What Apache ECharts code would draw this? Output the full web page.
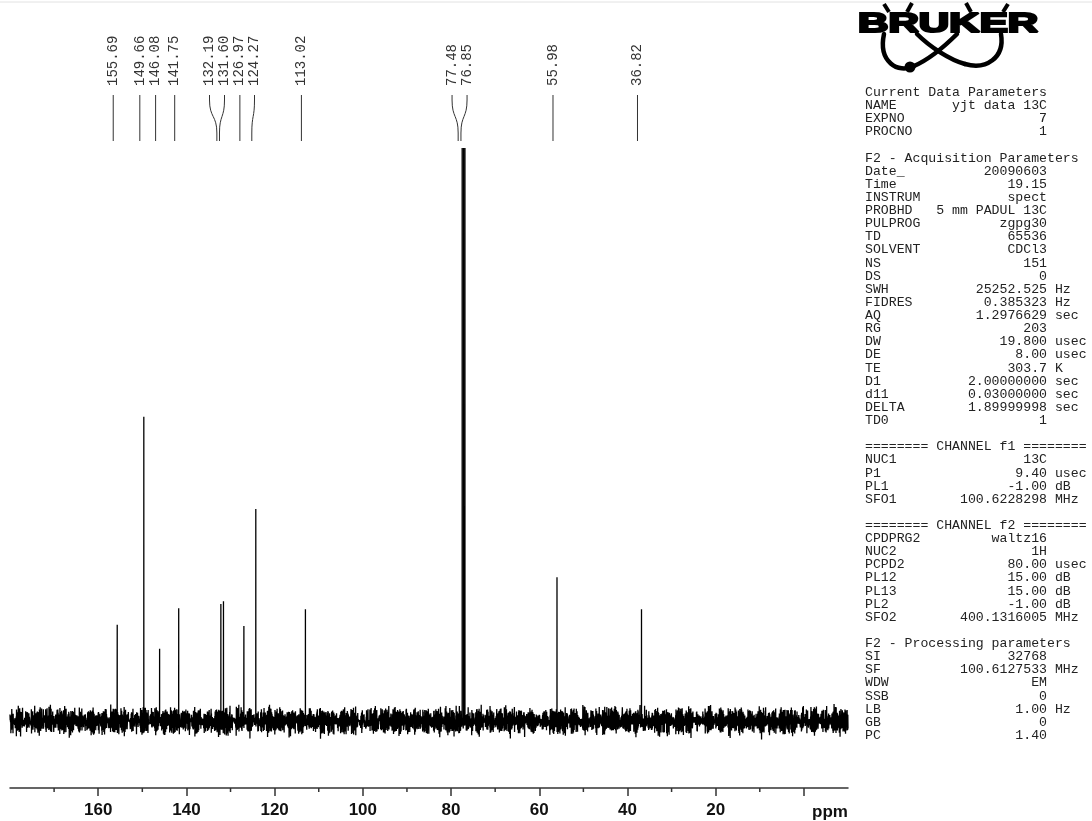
<!DOCTYPE html>
<html>
<head>
<meta charset="utf-8">
<script src="https://cdn.jsdelivr.net/npm/echarts@6/dist/echarts.min.js"></script>
<style>
  html, body { margin: 0; padding: 0; background: #fff; }
  #chart { width: 1092px; height: 821px; }
</style>
</head>
<body>
<div id="chart"></div>
<script>
// 13C NMR peak list (ppm) with peak heights in % of the CDCl3 line
const peakShifts  = [155.69, 149.66, 146.08, 141.75, 132.19, 131.60, 126.97, 124.27, 113.02, 77.48, 77.16, 76.85, 55.98, 36.82];
const peakHeights = [16.8,   53.1,   12.6,   19.7,   20.4,   20.9,   16.6,   37.0,   19.5,   100,   100,   100,   25.1,  19.5];
// shifts printed above the spectrum
const labelledShifts = [155.69, 149.66, 146.08, 141.75, 132.19, 131.60, 126.97, 124.27, 113.02, 77.48, 76.85, 55.98, 36.82];

// ppm axis
const axisMin = -10, axisMax = 180;
const majorTicks = [0, 20, 40, 60, 80, 100, 120, 140, 160];
const minorTicks = [10, 30, 50, 70, 90, 110, 130, 150, 170];
const tickLabels = [20, 40, 60, 80, 100, 120, 140, 160];

// noise floor samples (intensity units)
const baselineNoise = [
  0.6, -1.2, 1.5, -0.4, 0.9, -1.7, 0.3, 1.1, -0.8, -1.4, 1.8, -0.2, 0.7, -1.1, 1.3, -0.6, 0.2, -1.9, 1.0, 0.4,
  -0.9, 1.6, -1.3, 0.5, -0.3, 1.2, -1.6, 0.8, -0.5, 1.9, -1.0, 0.1, -1.5, 1.4, -0.7, 0.6, -2.1, 1.1, 0.3, -0.8,
  1.7, -1.2, 0.9, -0.1, -1.4, 1.3, -0.6, 2.0, -1.8, 0.4, -0.2, 1.0, -1.1, 0.7, -1.6, 1.5, -0.4, 0.2, -1.0, 1.8,
  -2.3, 0.8, -0.3, 1.2, -0.9, 0.5, -1.5, 1.6, -0.7, 0.1, -1.2, 2.2, -0.5, 0.9, -1.7, 1.1, -0.2, 0.6, -1.3, 1.4,
  -0.8, 0.3, -2.0, 1.7, -0.6, 1.0, -1.1, 0.4, -0.9, 1.3, -1.6, 0.7, -0.1, 1.5, -1.4, 0.2, -0.7, 1.9, -1.0, 0.5
];

// acquisition / processing parameter listing
const currentParams = [['NAME', 'yjt data 13C'], ['EXPNO', '7'], ['PROCNO', '1']];
const acqParams = [
  ['Date_', '20090603'], ['Time', '19.15'], ['INSTRUM', 'spect'], ['PROBHD', '5 mm PADUL 13C'],
  ['PULPROG', 'zgpg30'], ['TD', '65536'], ['SOLVENT', 'CDCl3'], ['NS', '151'], ['DS', '0'],
  ['SWH', '25252.525', 'Hz'], ['FIDRES', '0.385323', 'Hz'], ['AQ', '1.2976629', 'sec'], ['RG', '203'],
  ['DW', '19.800', 'usec'], ['DE', '8.00', 'usec'], ['TE', '303.7', 'K'], ['D1', '2.00000000', 'sec'],
  ['d11', '0.03000000', 'sec'], ['DELTA', '1.89999998', 'sec'], ['TD0', '1']
];
const ch1Params = [['NUC1', '13C'], ['P1', '9.40', 'usec'], ['PL1', '-1.00', 'dB'], ['SFO1', '100.6228298', 'MHz']];
const ch2Params = [
  ['CPDPRG2', 'waltz16'], ['NUC2', '1H'], ['PCPD2', '80.00', 'usec'], ['PL12', '15.00', 'dB'],
  ['PL13', '15.00', 'dB'], ['PL2', '-1.00', 'dB'], ['SFO2', '400.1316005', 'MHz']
];
const procParams = [
  ['SI', '32768'], ['SF', '100.6127533', 'MHz'], ['WDW', 'EM'], ['SSB', '0'], ['LB', '1.00', 'Hz'], ['GB', '0'], ['PC', '1.40']
];

// ---- layout constants ----
const yMin = -11.69, yMax = 100;
const gridStep = 0.04;           // ppm between baseline samples
const labelGap = 15;             // min px between printed shift labels
const labelShift = -4;           // px offset of the label leaders
const monoFont = '"Liberation Mono", "DejaVu Sans Mono", monospace';

function buildSpectrum() {
  const pts = [];
  const n1 = baselineNoise.length, n2 = n1 - 11;
  for (let k = 0; ; k++) {
    const p = axisMax - k * gridStep;
    if (p < axisMin) break;
    const v = 0.8 * baselineNoise[k % n1] + 0.6 * baselineNoise[(k * 3 + 7) % n2];
    pts.push([p, v]);
  }
  peakShifts.forEach((p, j) => {
    pts.push([p + 0.01, 0], [p, peakHeights[j]], [p - 0.01, 0]);
  });
  pts.sort((a, b) => b[0] - a[0]);
  return pts;
}

function paramLine(row) {
  const [name, value, unit] = row;
  const pad = Math.max(1, 23 - name.length - value.length);
  return name + ' '.repeat(pad) + value + (unit ? ' ' + unit : '');
}

function paramText() {
  const lines = ['Current Data Parameters'];
  currentParams.forEach(r => lines.push(paramLine(r)));
  lines.push('', 'F2 - Acquisition Parameters');
  acqParams.forEach(r => lines.push(paramLine(r)));
  lines.push('', '======== CHANNEL f1 ========');
  ch1Params.forEach(r => lines.push(paramLine(r)));
  lines.push('', '======== CHANNEL f2 ========');
  ch2Params.forEach(r => lines.push(paramLine(r)));
  lines.push('', 'F2 - Processing parameters');
  procParams.forEach(r => lines.push(paramLine(r)));
  return lines.join('\n');
}

// Bruker logo: bold wordmark with two crossing orbits and a nucleus dot
function logoElements() {
  const orbit = { stroke: '#000', lineWidth: 4.5, fill: null, lineCap: 'round' };
  const accent = { stroke: '#000', lineWidth: 4, lineCap: 'butt' };
  return [
    { type: 'bezierCurve', shape: { x1: 884, y1: 34, cpx1: 878, cpy1: 62, cpx2: 898, cpy2: 74, x2: 914, y2: 66 }, style: orbit },
    { type: 'bezierCurve', shape: { x1: 914, y1: 66, cpx1: 930, cpy1: 59, cpx2: 945, cpy2: 46, x2: 957, y2: 34 }, style: orbit },
    { type: 'bezierCurve', shape: { x1: 1001, y1: 34, cpx1: 1005, cpy1: 58, cpx2: 986, cpy2: 70, x2: 965, y2: 64 }, style: orbit },
    { type: 'bezierCurve', shape: { x1: 965, y1: 64, cpx1: 950, cpy1: 60, cpx2: 930, cpy2: 47, x2: 917, y2: 34 }, style: orbit },
    { type: 'circle', shape: { cx: 910, cy: 67, r: 5.5 }, style: { fill: '#000' } },
    { type: 'line', shape: { x1: 884, y1: 4, x2: 889, y2: 12 }, style: accent },
    { type: 'line', shape: { x1: 912, y1: 3, x2: 907, y2: 12 }, style: accent },
    { type: 'line', shape: { x1: 966, y1: 3, x2: 971, y2: 12 }, style: accent },
    { type: 'line', shape: { x1: 1008, y1: 4, x2: 1003, y2: 12 }, style: accent },
    {
      type: 'text', x: 858, y: 25, scaleX: 1.56,
      style: {
        text: 'BRUKER', x: 0, y: 0, fill: '#000', stroke: '#000', lineWidth: 2.2,
        fontFamily: '"Liberation Sans", Arial, sans-serif', fontWeight: 'bold', fontSize: 27,
        align: 'left', verticalAlign: 'middle'
      }
    }
  ];
}

const chart = echarts.init(document.getElementById('chart'), null, { renderer: 'canvas' });

chart.setOption({
  animation: false,
  backgroundColor: '#fff',
  grid: { left: 10, right: 244, top: 148, bottom: 33, containLabel: false },
  xAxis: {
    type: 'value', min: axisMin, max: axisMax, inverse: true, position: 'bottom',
    axisLine: { show: true, onZero: false, lineStyle: { color: '#333', width: 1.5 } },
    axisTick: { show: true, customValues: majorTicks, length: 8, lineStyle: { color: '#333', width: 1.5 } },
    axisLabel: {
      customValues: tickLabels, margin: 14, color: '#111',
      fontFamily: '"Liberation Sans", Arial, sans-serif', fontWeight: 'bold', fontSize: 17
    },
    splitLine: { show: false }
  },
  yAxis: { type: 'value', min: yMin, max: yMax, show: false, splitLine: { show: false } },
  series: [
    {
      type: 'line', data: buildSpectrum(), showSymbol: false, symbol: 'none',
      lineStyle: { color: '#000', width: 1.3 }, clip: true, silent: true, sampling: null
    },
    {
      type: 'custom', clip: false, silent: true,
      data: minorTicks.map(v => [v, yMin]),
      renderItem(params, api) {
        const p = api.coord([api.value(0), yMin]);
        return { type: 'line', shape: { x1: p[0], y1: p[1], x2: p[0], y2: p[1] + 4 }, style: { stroke: '#333', lineWidth: 1.5 } };
      }
    }
  ]
});

// spread clustered labels so neighbouring ones keep a minimum gap
function spreadLabels(xs, gap) {
  let groups = xs.map(x => ({ sum: x, n: 1, start: x }));
  let merged = true;
  while (merged) {
    merged = false;
    for (let i = 0; i < groups.length - 1; i++) {
      const a = groups[i], b = groups[i + 1];
      if (b.start - (a.start + (a.n - 1) * gap) < gap) {
        const n = a.n + b.n, sum = a.sum + b.sum;
        groups.splice(i, 2, { sum, n, start: sum / n - (n - 1) * gap / 2 });
        merged = true;
        break;
      }
    }
  }
  const out = [];
  groups.forEach(g => { for (let k = 0; k < g.n; k++) out.push(g.start + k * gap); });
  return out;
}

const bottomX = labelledShifts.map(v => chart.convertToPixel({ xAxisIndex: 0 }, v) + labelShift);
const topX = spreadLabels(bottomX, labelGap);
const leaderStyle = { stroke: '#333', lineWidth: 1, fill: null };
const labelEls = [];
labelledShifts.forEach((v, i) => {
  const tx = topX[i], bx = bottomX[i];
  labelEls.push({
    type: 'text', x: tx, y: 86, rotation: Math.PI / 2,
    style: { text: v.toFixed(2), x: 0, y: 0, fill: '#333', fontFamily: monoFont, fontSize: 14, align: 'left', verticalAlign: 'middle' }
  });
  if (Math.abs(tx - bx) < 0.5) {
    labelEls.push({ type: 'line', shape: { x1: bx, y1: 95, x2: bx, y2: 141 }, style: leaderStyle });
  } else {
    labelEls.push({ type: 'line', shape: { x1: tx, y1: 95, x2: tx, y2: 100 }, style: leaderStyle });
    labelEls.push({ type: 'bezierCurve', shape: { x1: tx, y1: 100, cpx1: tx, cpy1: 118, cpx2: bx, cpy2: 115, x2: bx, y2: 133 }, style: leaderStyle });
    labelEls.push({ type: 'line', shape: { x1: bx, y1: 133, x2: bx, y2: 141 }, style: leaderStyle });
  }
});

chart.setOption({
  graphic: [
    { type: 'line', shape: { x1: 0, y1: 2, x2: 1092, y2: 2 }, style: { stroke: '#e2e2e2', lineWidth: 1 } },
    ...labelEls,
    ...logoElements(),
    {
      type: 'text', x: 865, y: 86,
      style: { text: paramText(), x: 0, y: 0, fill: '#222', fontFamily: monoFont, fontSize: 13.2, lineHeight: 13.12, align: 'left', verticalAlign: 'top' }
    },
    {
      type: 'text', x: 830, y: 812,
      style: { text: 'ppm', x: 0, y: 0, fill: '#111', fontFamily: '"Liberation Sans", Arial, sans-serif', fontWeight: 'bold', fontSize: 17, align: 'center', verticalAlign: 'middle' }
    }
  ]
});
</script>
</body>
</html>
